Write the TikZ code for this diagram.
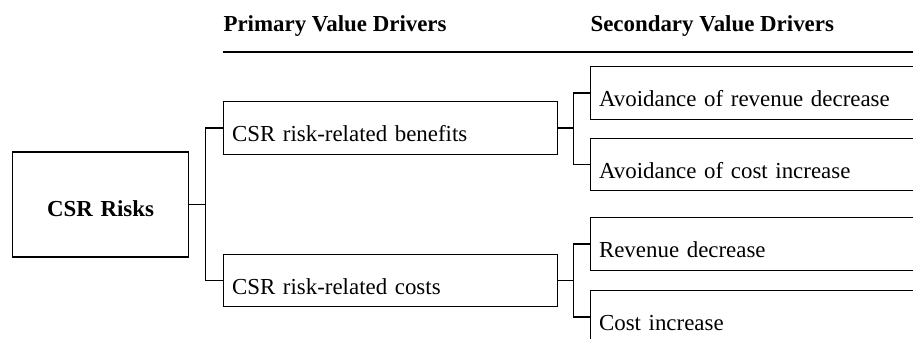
\documentclass[tikz,border=0pt]{standalone}
\usepackage{fontspec}
\setmainfont{Liberation Serif}
\newcommand{\drvfont}{\fontsize{22.9}{27}\selectfont}
\begin{document}
\begin{tikzpicture}[x=1pt, y=1pt, line width=1.1pt,
		box/.style={draw, anchor=west, inner xsep=8.5pt, inner ysep=0pt,
			text height=40pt, text depth=12.5pt, align=left, font=\drvfont},
		rootbox/.style={draw, anchor=west, inner sep=0pt, text width=176pt,
			text height=64pt, text depth=41pt, align=center, font=\drvfont\bfseries},
		head/.style={anchor=base west, inner sep=0pt, font=\drvfont\bfseries}]
	\def\colA{223}
	\def\colB{590}
	\clip (0,0) rectangle (913,338);

	% headings
	\node[head] (prim) at (\colA, 306) {Primary Value Drivers};
	\node[head] (sec) at (\colB, 306) {Secondary Value Drivers};
	\draw (\colA, 286) -- (913, 286);

	\node[rootbox] (risks) at (12, 133.5) {CSR Risks};

	\node[box, text width=317pt] (benefits) at (\colA, 210) {CSR risk-related benefits};
	\node[box, text width=317pt] (costs) at (\colA, 57.5) {CSR risk-related costs};

	\node[box, text width=323pt] (avrev) at (\colB, 245) {Avoidance of revenue decrease};
	\node[box, text width=323pt] (avcost) at (\colB, 173.5) {Avoidance of cost increase};
	\node[box, text width=323pt] (revdec) at (\colB, 94) {Revenue decrease};
	\node[box, text width=323pt] (costinc) at (\colB, 21) {Cost increase};

	\coordinate (forkA) at (205.5, 133.5);
	\coordinate (forkB) at (573.5, 210);
	\coordinate (forkC) at (573.5, 57.5);

	\draw (risks.east) -- (forkA) |- (benefits.west);
	\draw (forkA) |- (costs.west);

	\draw (benefits.east) -- (forkB) |- (avrev.west);
	\draw (forkB) |- (avcost.west);

	\draw (costs.east) -- (forkC) |- (revdec.west);
	\draw (forkC) |- (costinc.west);
\end{tikzpicture}
\end{document}
